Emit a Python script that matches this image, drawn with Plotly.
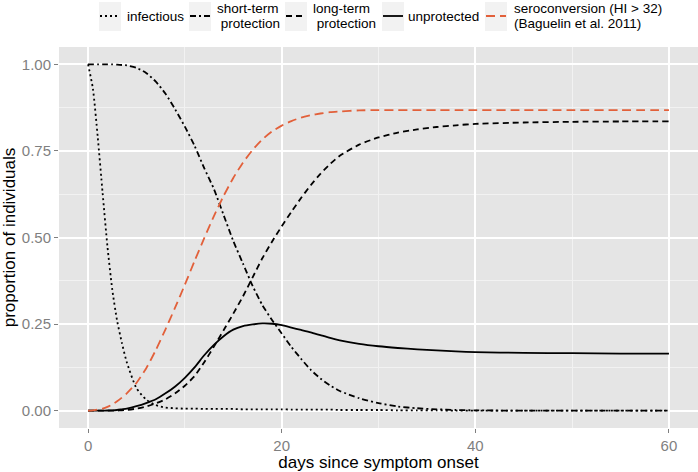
import plotly.graph_objects as go

days = [0, 0.5, 1, 1.5, 2, 2.5, 3, 3.5, 4, 5, 6, 7, 8, 9, 10, 11, 12, 13, 14, 15,
        16, 17, 18, 19, 20, 21, 22, 23, 24, 25, 26, 28, 30, 32, 34, 36, 38, 40,
        45, 50, 55, 60]

infectious = [1.0, 0.93, 0.79, 0.63, 0.475, 0.35, 0.26, 0.195, 0.14, 0.065, 0.032,
              0.016, 0.009, 0.007, 0.006, 0.006, 0.005, 0.005, 0.005, 0.005,
              0.004, 0.004, 0.004, 0.004, 0.004, 0.003, 0.003, 0.003, 0.003, 0.003,
              0.002, 0.002, 0.002, 0.001, 0.001, 0.001, 0.0, 0.0,
              0.0, 0.0, 0.0, 0.0]

short_term = [1.0, 1.0, 1.0, 1.0, 1.0, 1.0, 0.999, 0.998, 0.997, 0.99, 0.975,
              0.95, 0.915, 0.87, 0.82, 0.765, 0.70, 0.64, 0.565, 0.49,
              0.425, 0.36, 0.305, 0.262, 0.223, 0.184, 0.15, 0.118, 0.093, 0.073,
              0.057, 0.036, 0.022, 0.012, 0.007, 0.004, 0.002, 0.001,
              0.0, 0.0, 0.0, 0.0]

long_term = [0.0, 0.0, 0.0, 0.0, 0.0, 0.0, 0.0005, 0.001, 0.002, 0.006, 0.012,
             0.021, 0.033, 0.05, 0.072, 0.1, 0.14, 0.185, 0.232, 0.28,
             0.33, 0.385, 0.44, 0.488, 0.532, 0.574, 0.614, 0.651, 0.684, 0.712,
             0.736, 0.768, 0.789, 0.803, 0.812, 0.819, 0.824, 0.828,
             0.832, 0.834, 0.835, 0.835]

unprotected = [0.0, 0.0, 0.0, 0.0, 0.0005, 0.001, 0.002, 0.004, 0.006, 0.013, 0.022,
               0.033, 0.05, 0.07, 0.095, 0.125, 0.16, 0.19, 0.215, 0.234,
               0.244, 0.249, 0.252, 0.251, 0.247, 0.24, 0.233, 0.226, 0.218, 0.21,
               0.203, 0.193, 0.186, 0.181, 0.177, 0.174, 0.171, 0.169,
               0.167, 0.166, 0.165, 0.165]

seroconversion = [0.0, 0.001, 0.003, 0.006, 0.011, 0.018, 0.027, 0.038, 0.05, 0.08, 0.122,
                  0.175, 0.235, 0.298, 0.364, 0.432, 0.498, 0.562, 0.62, 0.672,
                  0.716, 0.753, 0.783, 0.806, 0.823, 0.836, 0.846, 0.853, 0.858, 0.862,
                  0.864, 0.867, 0.868, 0.868, 0.868, 0.868, 0.868, 0.868,
                  0.868, 0.868, 0.868, 0.868]

series_names = ["infectious", "short-term protection", "long-term protection",
                "unprotected", "seroconversion (HI > 32) (Baguelin et al. 2011)"]
legend_labels = [["infectious"],
                 ["short-term", "\u00a0protection"],
                 ["long-term", "\u00a0protection"],
                 ["unprotected"],
                 ["seroconversion (HI > 32)", "(Baguelin et al. 2011)"]]

x_ticks = [0, 20, 40, 60]
y_ticks = [0, 0.25, 0.5, 0.75, 1.0]
y_tick_labels = ["0.00", "0.25", "0.50", "0.75", "1.00"]

FONT = "Liberation Sans, Arial, Helvetica, sans-serif"
styles = [
    dict(color="black", dash="2px,3px", width=1.8),
    dict(color="black", dash="6px,3px,2px,3px", width=1.8),
    dict(color="black", dash="6px,4px", width=1.8),
    dict(color="black", dash="solid", width=1.8),
    dict(color="#E2603A", dash="9px,5px", width=1.8),
]

W, H = 698, 472
ML, MR, MT, MB = 59, 0, 47, 44
PW, PH = W - ML - MR, H - MT - MB


def px_x(px):
    return (px - ML) / PW


def px_y(py):
    return (H - MB - py) / PH


fig = go.Figure()
for name, vals, st in zip(series_names,
                          [infectious, short_term, long_term, unprotected, seroconversion],
                          styles):
    fig.add_trace(go.Scatter(x=days, y=vals, mode="lines", name=name, showlegend=False,
                             line=dict(shape="spline", smoothing=0.6, **st)))

# ggplot-style legend row above the panel (key boxes, key lines, labels)
key_left = [99, 189, 285, 382, 485]
key_w = 22
text_left = [126, 216, 312, 407, 513]
key_top, key_bot, key_mid = 2, 31, 16
shapes = []
annotations = []
for kl, tl, st, lines in zip(key_left, text_left, styles, legend_labels):
    shapes.append(dict(type="rect", xref="paper", yref="paper",
                       x0=px_x(kl), x1=px_x(kl + key_w), y0=px_y(key_bot), y1=px_y(key_top),
                       fillcolor="#F2F2F2", line=dict(width=0), layer="below"))
    shapes.append(dict(type="line", xref="paper", yref="paper",
                       x0=px_x(kl + 1), x1=px_x(kl + key_w - 1), y0=px_y(key_mid), y1=px_y(key_mid),
                       line=dict(color=st["color"], dash=st["dash"], width=st["width"])))
    if len(lines) == 1:
        ys = [key_mid]
    else:
        ys = [key_mid - 7.2, key_mid + 7.2]
    for txt, yy in zip(lines, ys):
        annotations.append(dict(text=txt, xref="paper", yref="paper",
                                x=px_x(tl - 1), y=px_y(yy), xanchor="left", yanchor="middle",
                                showarrow=False, font=dict(family=FONT, size=13.5, color="black")))

axis_common = dict(
    showgrid=True, gridcolor="white", gridwidth=1.6,
    zeroline=False, showline=False, automargin=False,
    ticks="outside", ticklen=4, tickcolor="#7f7f7f", tickwidth=1,
    tickfont=dict(family=FONT, size=15, color="#7f7f7f"),
)

fig.update_layout(
    width=W, height=H,
    margin=dict(l=ML, r=MR, t=MT, b=MB),
    paper_bgcolor="white", plot_bgcolor="#E5E5E5",
    font=dict(family=FONT, color="black"),
    showlegend=False,
    shapes=shapes,
    annotations=annotations,
    xaxis=dict(range=[-3, 63], tickvals=x_ticks,
               title=dict(text="days since symptom onset", font=dict(family=FONT, size=17), standoff=2),
               minor=dict(dtick=10, tick0=0, showgrid=True, gridcolor="#F2F2F2", gridwidth=0.8, ticks=""),
               **axis_common),
    yaxis=dict(range=[-0.05, 1.05], tickvals=y_ticks, ticktext=y_tick_labels,
               title=dict(text="proportion of individuals", font=dict(family=FONT, size=17), standoff=6),
               minor=dict(dtick=0.125, tick0=0, showgrid=True, gridcolor="#F2F2F2", gridwidth=0.8, ticks=""),
               **axis_common),
)

fig.write_html(
    "out.html",
    config={"displayModeBar": False},
    post_script="document.body.style.margin='0px';document.body.style.padding='0px';"
                "document.body.style.overflow='hidden';",
)
